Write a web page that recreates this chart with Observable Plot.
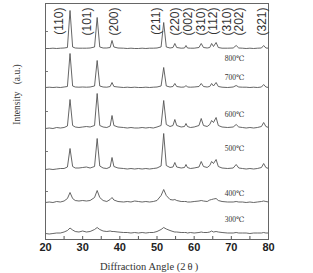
<!DOCTYPE html>
<html>
<head>
<meta charset="utf-8">
<script src="https://cdn.jsdelivr.net/npm/d3@7"></script>
<script src="https://cdn.jsdelivr.net/npm/@observablehq/plot@0.6"></script>
<style>
  html, body { margin: 0; padding: 0; background: #fff; }
</style>
</head>
<body>
<div id="chart"></div>
<script>
// 2θ sampling positions (degrees)
const twoTheta = [20,21,22,23,24,25,25.9,26.6,27.3,28,29,30,31,32,33.2,33.9,34.6,35.5,36.5,37.4,37.9,38.4,39.5,41,42,43,44,45,46,47,48,49,50,51.1,51.8,52.5,53.5,54.3,54.8,55.3,56.5,57.4,57.8,58.2,59,60,61.3,61.9,62.5,63.5,64.2,64.7,65.2,65.9,66.5,67.5,69,70.5,71.3,72,73,74,75,76,77,78.1,78.7,79.3,80];

// intensities (a.u., above each pattern's own baseline)
const i800 = [0,0,0.3,0,0.3,0.5,1,38,1.5,0.5,0.3,0.3,0.3,0.5,1.5,31,1.5,0.5,0.5,1,8,1.5,0.5,0.3,0,0.3,0,0,0.3,0,0.3,0.3,0.5,1.5,26,1.5,0.5,1,5,1,0.3,0.5,3,0.5,0.3,0.3,1,5,1,0.5,1,5,2,6,1,0.3,0.3,0.5,3,0.5,0.3,0,0.3,0,0.3,0.5,3,0.5,0.3];
const i700 = [0,0.3,0,0.3,0,0.5,1,34,1.5,0.5,0.3,0.5,0.3,0.5,1.5,27,1.5,0.5,0.3,1,5,1,0.5,0,0.3,0,0.3,0,0,0.3,0,0.3,0.5,1.5,20,1.5,0.5,1,4,1,0.3,0.5,2,0.5,0.3,0.5,1,4,1,0.5,1,4,1.5,5,1,0.3,0,0.5,2,0.5,0.3,0.3,0,0.3,0,0.5,3,0.5,0];
const i600 = [0,0.5,0,1,0.5,1,2.5,29,3,1.5,1,1.5,2,1.5,3,35,3,1.5,1,2.5,13,3,1.5,1,0.5,1,0.5,0.5,1,0.5,1,0.5,1.5,3,28,4,2,3,9,3,1.5,2,5,2,1,1.5,3,10,3,2,4,8,6,11,3,1.5,1,1.5,4,1.5,1,0.5,1,0.5,1,2,6,2,1];
const i500 = [0,0.5,0,0.5,1,1,2.5,21,3,1.5,1.5,2,2.5,1.5,3,31,3.5,1.5,1,2.5,12,3,1.5,1,0.5,1,0.5,1,0.5,1,0.5,1,1.5,3.5,36,4,2,2.5,7,2.5,1.5,2,5,2,1,1.5,2.5,8,3,2,4,8,6,10,3,1.5,1,1.5,5,1.5,1,0.5,1,0.5,1,2,6,2,1];
const i400 = [0,0.5,0,1,0.5,1.5,4,10,4,2,1.5,2,1.5,2,5,12,5,2,1,3,5,2.5,1,0.5,1,0.5,1.5,1,0.5,1,0.5,1,2,7,13,7,3,2.5,3,2,1,1,1,0.5,0.5,1,1.5,2,1.5,1,2.5,3,3.5,4,2,1,0.5,0.5,1,0.5,0.5,0,0.5,0,0.5,1,1.5,1,0.5];
const i300 = [0,-0.5,0,0.5,0.5,1.5,3,5.5,3.5,2,1.5,2.5,1.5,2,4,6,4,2.5,2,2.5,2,2,1.5,1,1,0.5,1,0.5,1,0.5,1,1,2,4,6,4.5,3,2,1.5,1.5,1,1,1,0.5,1,0.5,1,1.5,1,1,1.5,2.5,1.5,2,1.5,1,0.5,0.5,1,0.5,0.5,0.5,0,0.5,0.5,0.5,1,0.5,0.5];

// stacking: baseline of each pattern (a.u.) and labels
const temps = ["800℃","700℃","600℃","500℃","400℃","300℃"];
const patterns = [i800, i700, i600, i500, i400, i300];
const offsets = [191, 152, 111, 70, 37, 6];
const labelY = [181, 162, 125, 91, 46, 20];
const labelX = 70.9;

// Miller indices
const hkl = ["(110)","(101)","(200)","(211)","(220)","(002)","(310)","(112)","(310)","(202)","(321)"];
const hklPos = [23.8,31.1,38.4,49.7,54.9,58.4,61.9,65.1,68.9,72.2,78.4];

const xTicks = [20,30,40,50,60,70,80];
const xMinor = [25,30,35,40,45,50,55,60,65,70,75];
const yMinor = [48,88,128,168,208];

const rows = [];
patterns.forEach((arr, k) => arr.forEach((v, i) => rows.push({t: temps[k], x: twoTheta[i], y: offsets[k] + v})));

const serif = "'Liberation Serif', 'DejaVu Serif', serif";
const sans = "'Liberation Sans', Arial, sans-serif";

const chart = Plot.plot({
  width: 313,
  height: 273,
  marginLeft: 45,
  marginRight: 45,
  marginTop: 3,
  marginBottom: 34,
  style: {background: "#fff", color: "#333"},
  x: {domain: [20, 80]},
  y: {domain: [0, 236], axis: null},
  marks: [
    Plot.line(rows, {x: "x", y: "y", z: "t", stroke: "#555", strokeWidth: 0.9}),
    Plot.ruleX(xMinor, {y1: 0, y2: 3, stroke: "#555"}),
    Plot.ruleY(yMinor, {x1: 20, x2: 20.8, stroke: "#777"}),
    Plot.frame({stroke: "#666", strokeWidth: 1}),
    Plot.axisX(xTicks, {tickSize: 0, tickPadding: 4, fontSize: 11, fontWeight: "bold", fontFamily: sans, fill: "#222", label: null}),
    Plot.text(hkl, {x: (d, i) => hklPos[i], y: 232, rotate: -90, textAnchor: "end", fontSize: 12, fontFamily: sans, fill: "#333"}),
    Plot.text(temps, {x: labelX, y: (d, i) => labelY[i], fontSize: 7.5, fontFamily: serif, fill: "#333"}),
    Plot.text(["Intensity\u00a0\u00a0\u00a0(a.u.)"], {x: 12.2, y: 145, rotate: -90, textAnchor: "middle", fontSize: 9.5, fontFamily: serif, fill: "#333"}),
    Plot.text(["Diffraction Angle (2\u2009θ\u2009)"], {frameAnchor: "bottom", dx: -8, dy: 30, fontSize: 10.5, fontFamily: serif, fill: "#333"})
  ]
});
document.getElementById("chart").appendChild(chart);
</script>
</body>
</html>
